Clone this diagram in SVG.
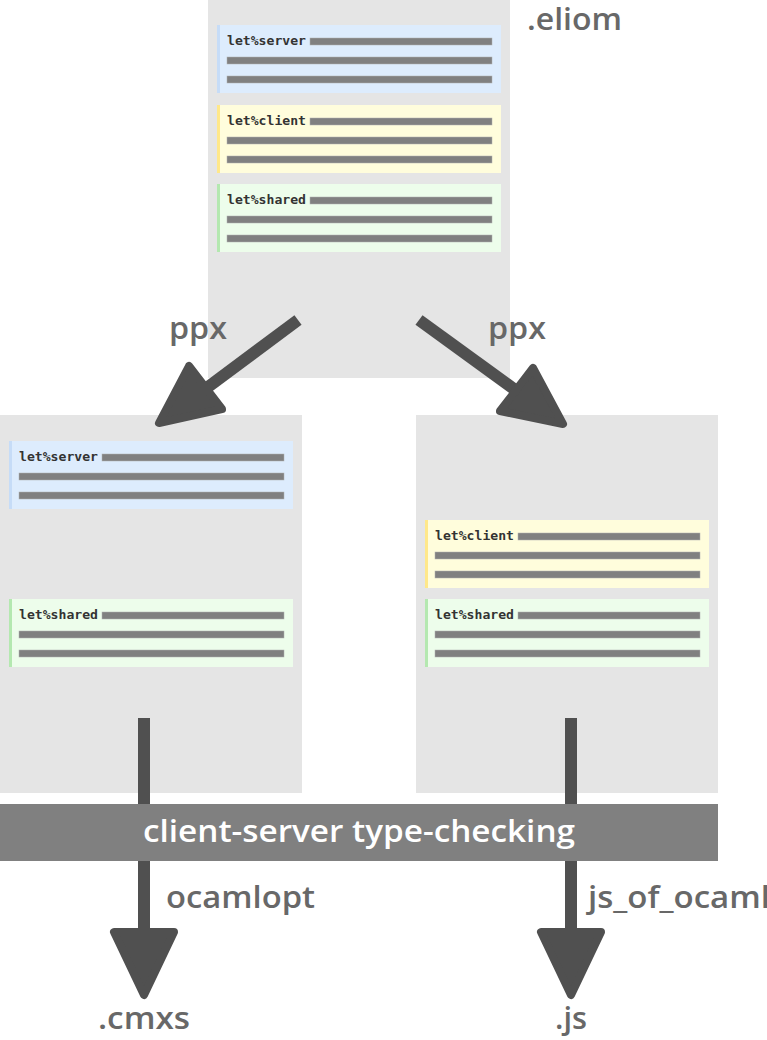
<svg xmlns="http://www.w3.org/2000/svg" width="767" height="1040" viewBox="0 0 767 1040">
<style>
.box{fill:#e5e5e5}
.blk-s{fill:#ddecfd}
.blk-c{fill:#fffddc}
.blk-h{fill:#edfdeb}
.brd-s{fill:#c6dcf7}
.brd-c{fill:#ffe88a}
.brd-h{fill:#b4e8b0}
.bar{fill:#808080;stroke:#b0b0b0;stroke-width:0.5}
.code{font-family:"DejaVu Sans Mono","Liberation Mono",monospace;font-weight:bold;font-size:13px;fill:#333}
.lbl{font-family:"Open Sans","Noto Sans",sans-serif;font-weight:600;font-size:30px;fill:#686868}
.band{fill:#808080}
.bandtxt{font-family:"Open Sans","Noto Sans",sans-serif;font-weight:600;font-size:31px;fill:#fff}
.shaft{stroke:#505050;stroke-width:12;fill:none}
.head{fill:#505050;stroke:#505050;stroke-width:8;stroke-linejoin:round}
</style>
<defs>
<g id="lines">
<rect class="bar" x="93" y="13" width="182" height="7"/>
<rect class="bar" x="10" y="32" width="265" height="7"/>
<rect class="bar" x="10" y="51" width="265" height="7"/>
</g>
</defs>

<g id="eliom">
<rect class="box" x="208" y="0" width="302" height="378"/>
<g transform="translate(217,25)">
<rect class="blk-s" width="284" height="68"/><rect class="brd-s" width="3" height="68"/>
<text class="code" x="10" y="20" textLength="79" lengthAdjust="spacingAndGlyphs">let%server</text><use href="#lines"/>
</g>
<g transform="translate(217,105)">
<rect class="blk-c" width="284" height="68"/><rect class="brd-c" width="3" height="68"/>
<text class="code" x="10" y="20" textLength="79" lengthAdjust="spacingAndGlyphs">let%client</text><use href="#lines"/>
</g>
<g transform="translate(217,184)">
<rect class="blk-h" width="284" height="68"/><rect class="brd-h" width="3" height="68"/>
<text class="code" x="10" y="20" textLength="79" lengthAdjust="spacingAndGlyphs">let%shared</text><use href="#lines"/>
</g>
<text class="lbl" x="527" y="30" textLength="95" lengthAdjust="spacingAndGlyphs">.eliom</text>
</g>

<g id="server">
<rect class="box" x="0" y="415" width="302" height="378"/>
<g transform="translate(9,441)">
<rect class="blk-s" width="284" height="68"/><rect class="brd-s" width="3" height="68"/>
<text class="code" x="10" y="20" textLength="79" lengthAdjust="spacingAndGlyphs">let%server</text><use href="#lines"/>
</g>
<g transform="translate(9,599)">
<rect class="blk-h" width="284" height="68"/><rect class="brd-h" width="3" height="68"/>
<text class="code" x="10" y="20" textLength="79" lengthAdjust="spacingAndGlyphs">let%shared</text><use href="#lines"/>
</g>
</g>

<g id="client">
<rect class="box" x="416" y="415" width="302" height="378"/>
<g transform="translate(425,520)">
<rect class="blk-c" width="284" height="68"/><rect class="brd-c" width="3" height="68"/>
<text class="code" x="10" y="20" textLength="79" lengthAdjust="spacingAndGlyphs">let%client</text><use href="#lines"/>
</g>
<g transform="translate(425,599)">
<rect class="blk-h" width="284" height="68"/><rect class="brd-h" width="3" height="68"/>
<text class="code" x="10" y="20" textLength="79" lengthAdjust="spacingAndGlyphs">let%shared</text><use href="#lines"/>
</g>
</g>

<g id="connectors">
<line class="shaft" x1="298" y1="320" x2="208" y2="387"/>
<polygon class="head" points="159,423 222,409 189,366"/>
<line class="shaft" x1="419" y1="320" x2="514" y2="389"/>
<polygon class="head" points="563,424 500,411 533,368"/>
<line class="shaft" x1="144" y1="718" x2="144" y2="935"/>
<polygon class="head" points="114,932 174,932 144,995"/>
<line class="shaft" x1="571" y1="718" x2="571" y2="935"/>
<polygon class="head" points="541,932 601,932 571,995"/>
<text class="lbl" x="169" y="339" textLength="58" lengthAdjust="spacingAndGlyphs">ppx</text>
<text class="lbl" x="488" y="339" textLength="58" lengthAdjust="spacingAndGlyphs">ppx</text>
<text class="lbl" x="166" y="908" textLength="149" lengthAdjust="spacingAndGlyphs">ocamlopt</text>
<text class="lbl" x="588" y="908" textLength="182" lengthAdjust="spacingAndGlyphs">js_of_ocaml</text>
<text class="lbl" x="98" y="1029" textLength="92" lengthAdjust="spacingAndGlyphs">.cmxs</text>
<text class="lbl" x="555" y="1029" textLength="32" lengthAdjust="spacingAndGlyphs">.js</text>
</g>

<g id="typecheck">
<rect class="band" x="0" y="804" width="718" height="57"/>
<text class="bandtxt" x="143" y="842" textLength="432" lengthAdjust="spacingAndGlyphs">client-server type-checking</text>
</g>
</svg>
